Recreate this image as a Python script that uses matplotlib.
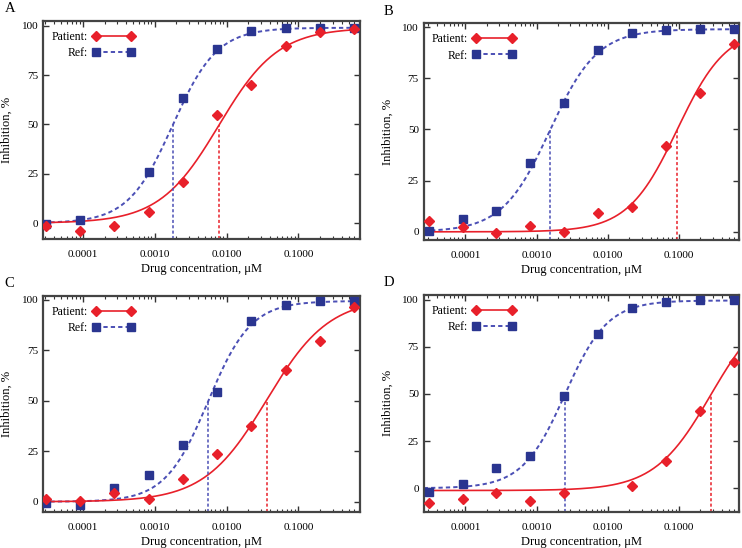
import numpy as np
import matplotlib.pyplot as plt
from matplotlib.ticker import LogLocator, NullFormatter, FixedLocator

plt.rcParams['font.family'] = ['Liberation Serif', 'DejaVu Serif']

# drug concentrations, uM (3-fold dilution)
conc = [3.05e-5, 9.14e-5, 2.74e-4, 8.23e-4, 2.47e-3, 7.41e-3, 2.22e-2, 6.67e-2, 0.2, 0.6]

# measured inhibition, %
ref_a = [-0.3, 1.7, np.nan, 25.8, 63.6, 88.0, 97.5, 98.7, 99.0, 99.0]
pat_a = [-1.7, -3.9, -1.2, 5.7, 21.0, 54.8, 69.8, 89.7, 96.6, 98.3]
ref_b = [0.6, 6.3, 10.0, 33.5, 62.7, 89.0, 97.2, 98.7, 99.0, 99.0]
pat_b = [5.5, 2.3, -0.5, 3.0, -0.2, 9.2, 12.2, 42.0, 67.9, 91.6]
ref_c = [-0.8, -1.6, 6.6, 13.2, 28.0, 54.6, 89.6, 97.5, 99.5, 99.5]
pat_c = [1.6, 0.3, 4.1, 1.3, 11.5, 23.8, 37.5, 65.5, 79.8, 96.7]
ref_d = [-1.8, 2.3, 10.7, 17.3, 48.9, 81.5, 95.6, 98.6, 99.5, 99.5]
pat_d = [-7.9, -5.8, -2.6, -6.5, -2.5, np.nan, 1.4, 14.3, 41.0, 67.0]

# fitted 4PL parameters: bottom, top, IC50, hill
fit_ref = {'A': (0, 99, 0.00177, 1.4), 'B': (0, 99, 0.00154, 1.3),
           'C': (0, 99.5, 0.00554, 1.45), 'D': (0, 99.5, 0.00251, 1.45)}
fit_pat = {'A': (0, 99, 0.0078, 1.05), 'B': (0, 100, 0.095, 1.25),
           'C': (0, 101, 0.0363, 1.0), 'D': (-1.2, 100, 0.28, 1.1)}

panels = {'A': (ref_a, pat_a), 'B': (ref_b, pat_b), 'C': (ref_c, pat_c), 'D': (ref_d, pat_d)}
ylims = {'A': (-8, 102.5), 'B': (-4, 102), 'C': (-5, 102), 'D': (-12.5, 102.5)}
boxes = {'A': [0.058, 0.564, 0.427, 0.398], 'B': [0.571, 0.562, 0.425, 0.396],
         'C': [0.058, 0.066, 0.427, 0.394], 'D': [0.571, 0.066, 0.425, 0.396]}
xlims = {'A': (2.78e-5, 0.72), 'B': (2.6e-5, 0.70), 'C': (2.78e-5, 0.72), 'D': (2.6e-5, 0.70)}

RED = '#e8202a'
BLUE = '#2a3590'
BLUE_L = '#4b4fb5'


def hill(x, b, t, ic, h):
    return b + (t - b) / (1 + (ic / x) ** h)


fig = plt.figure(figsize=(7.42, 5.48), dpi=100)
for key in ['A', 'B', 'C', 'D']:
    ax = fig.add_axes(boxes[key])
    ref, pat = panels[key]
    xs = np.logspace(np.log10(xlims[key][0]), np.log10(xlims[key][1]), 300)
    ylo = ylims[key][0]

    # fitted curves
    ax.plot(xs, hill(xs, *fit_ref[key]), color=BLUE_L, lw=1.4, ls=(0, (2.2, 1.6)), zorder=2)
    ax.plot(xs, hill(xs, *fit_pat[key]), color=RED, lw=1.2, zorder=2)

    # IC50 drop lines
    for prm, col in [(fit_ref[key], BLUE_L), (fit_pat[key], RED)]:
        ic = prm[2]
        ax.plot([ic, ic], [ylo, hill(ic, *prm)], color=col, lw=1.1, ls=(0, (2, 1.5)), zorder=2)

    ax.plot(conc, ref, 's', color=BLUE, ms=5.5, ls='none', zorder=3)
    ax.plot(conc, pat, 'D', color=RED, ms=5.5, ls='none', zorder=4)

    # legend handles
    ax.plot([], [], color=RED, lw=1.2, marker='D', ms=5.5, label='Patient:')
    ax.plot([], [], color=BLUE_L, lw=1.4, ls=(0, (2.2, 1.6)), marker='s', ms=5.5,
            mfc=BLUE, mec=BLUE, label='Ref:')
    ax.legend(loc='upper left', frameon=False, markerfirst=False, numpoints=2,
              fontsize=8.5, handlelength=3.6, handletextpad=0.4, labelspacing=0.35,
              borderaxespad=0.3, bbox_to_anchor=(0.0, 0.99))

    ax.set_xscale('log')
    ax.set_xlim(*xlims[key])
    ax.set_ylim(*ylims[key])
    ax.xaxis.set_major_locator(FixedLocator([1e-4, 1e-3, 1e-2, 1e-1]))
    ax.set_xticklabels(['0.0001', '0.0010', '0.0100', '0.1000'])
    ax.xaxis.set_minor_locator(LogLocator(base=10, subs=np.arange(2, 10), numticks=20))
    ax.xaxis.set_minor_formatter(NullFormatter())
    ax.set_yticks([0, 25, 50, 75, 100])
    ax.tick_params(which='both', direction='in', top=True, right=True, labelsize=8, color='#333')
    ax.tick_params(which='major', length=4, width=1)
    ax.tick_params(which='minor', length=2.5, width=0.8)
    ax.tick_params(axis='x', pad=8)
    for s in ax.spines.values():
        s.set_linewidth(1.6)
        s.set_color('#444444')
    ax.set_xlabel('Drug concentration, μM', fontsize=9, labelpad=3)
    ax.set_ylabel('Inhibition, %', fontsize=9, labelpad=6)

    fig.text(boxes[key][0] - 0.052 if key in 'AC' else boxes[key][0] - 0.054,
             boxes[key][1] + boxes[key][3] + 0.01, key, fontsize=10.5, va='bottom')

fig.savefig('out.png', dpi=100)
